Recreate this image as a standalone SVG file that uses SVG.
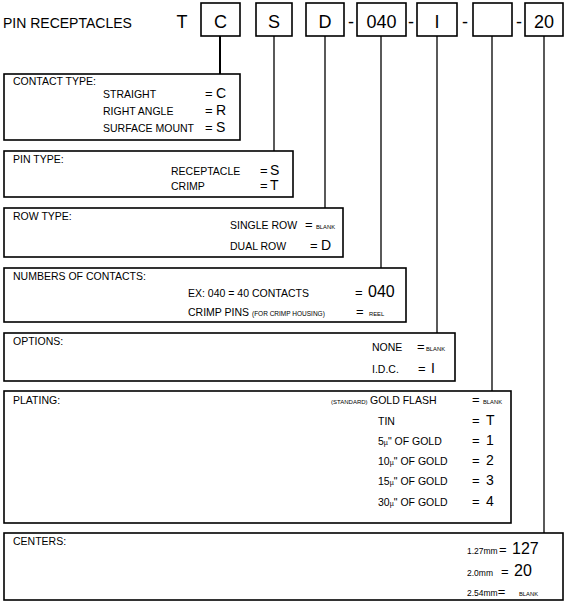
<svg xmlns="http://www.w3.org/2000/svg" width="569" height="607" viewBox="0 0 569 607">
<style>
text{font-family:"Liberation Sans",Arial,Helvetica,sans-serif;fill:#000}
.box{fill:none;stroke:#000;stroke-width:1.6}
.con{stroke:#000;stroke-width:1.3;fill:none}
.lbl{font-size:10.5px}
.it{font-size:10.5px}
.eq{font-size:13px}
.val{font-size:14px}
.big{font-size:16px}
.sm{font-size:5.8px}
.mm{font-size:8.5px}
.mu{font-size:7px}
.top{font-size:18px;text-anchor:middle}
</style>
<rect width="569" height="607" fill="#fff"/>
<g id="header">
<text x="3" y="28" style="font-size:14px">PIN RECEPTACLES</text>
<text x="182" y="28" class="top">T</text>
<rect class="box" x="201" y="3" width="39" height="33"/><text x="220.5" y="28" class="top">C</text>
<rect class="box" x="256" y="3" width="36" height="33"/><text x="274" y="28" class="top">S</text>
<rect class="box" x="306" y="3" width="38" height="33"/><text x="325" y="28" class="top">D</text>
<text x="351" y="28" class="top">-</text>
<rect class="box" x="357" y="3" width="49" height="33"/><text x="381.5" y="28" class="top">040</text>
<text x="411" y="28" class="top">-</text>
<rect class="box" x="417" y="3" width="40" height="33"/><text x="437" y="28" class="top">I</text>
<text x="465" y="28" class="top">-</text>
<rect class="box" x="473" y="3" width="39" height="33"/>
<text x="519" y="28" class="top">-</text>
<rect class="box" x="525" y="3" width="38" height="33"/><text x="544" y="28" class="top">20</text>
</g>
<g id="connectors">
<line class="con" x1="220" y1="36" x2="220" y2="74" style="stroke-width:2"/>
<line class="con" x1="274" y1="36" x2="274" y2="151"/>
<line class="con" x1="325" y1="36" x2="325" y2="208"/>
<line class="con" x1="381" y1="36" x2="381" y2="268"/>
<line class="con" x1="437" y1="36" x2="437" y2="333"/>
<line class="con" x1="492" y1="36" x2="492" y2="391"/>
<line class="con" x1="544" y1="36" x2="544" y2="533"/>
</g>
<g id="contact-type">
<rect class="box" x="4" y="74" width="236" height="66"/>
<text x="13" y="85" class="lbl">CONTACT TYPE:</text>
<text x="103" y="98" class="it">STRAIGHT</text><text x="205" y="98" class="eq">=</text><text x="216" y="98" class="val">C</text>
<text x="103" y="115" class="it">RIGHT ANGLE</text><text x="205" y="115" class="eq">=</text><text x="216" y="115" class="val">R</text>
<text x="103" y="132" class="it">SURFACE MOUNT</text><text x="205" y="132" class="eq">=</text><text x="216" y="132" class="val">S</text>
</g>
<g id="pin-type">
<rect class="box" x="4" y="151" width="289" height="46"/>
<text x="13" y="163" class="lbl">PIN TYPE:</text>
<text x="171" y="175" class="it">RECEPTACLE</text><text x="260" y="175" class="eq">=</text><text x="270" y="175" class="val">S</text>
<text x="171" y="190" class="it">CRIMP</text><text x="260" y="190" class="eq">=</text><text x="270" y="190" class="val">T</text>
</g>
<g id="row-type">
<rect class="box" x="4" y="208" width="339" height="49"/>
<text x="13" y="220" class="lbl">ROW TYPE:</text>
<text x="230" y="229" class="it">SINGLE ROW</text><text x="305" y="229" class="eq">=</text><text x="316" y="229" class="sm">BLANK</text>
<text x="230" y="250" class="it">DUAL ROW</text><text x="310" y="250" class="eq">=</text><text x="321" y="250" class="val">D</text>
</g>
<g id="numbers-of-contacts">
<rect class="box" x="4" y="268" width="402" height="54"/>
<text x="13" y="280" class="lbl">NUMBERS OF CONTACTS:</text>
<text x="188" y="297" class="it">EX: 040 = 40 CONTACTS</text><text x="355" y="297" class="eq">=</text><text x="368" y="297" class="big">040</text>
<text x="188" y="316" class="it">CRIMP PINS <tspan style="font-size:6.5px">(FOR CRIMP HOUSING)</tspan></text><text x="356" y="316" class="eq">=</text><text x="369" y="316" class="sm">REEL</text>
</g>
<g id="options">
<rect class="box" x="4" y="333" width="451" height="48"/>
<text x="13" y="345" class="lbl">OPTIONS:</text>
<text x="372" y="351" class="it">NONE</text><text x="417" y="351" class="eq">=</text><text x="426" y="351" class="sm">BLANK</text>
<text x="372" y="373" class="it">I.D.C.</text><text x="418" y="373" class="eq">=</text><text x="431" y="373" class="val">I</text>
</g>
<g id="plating">
<rect class="box" x="4" y="391" width="507" height="132"/>
<text x="13" y="404" class="lbl">PLATING:</text>
<text x="331" y="404" style="font-size:6px">(STANDARD)</text><text x="370" y="404" class="it">GOLD FLASH</text><text x="472" y="404" class="eq">=</text><text x="483" y="404" class="sm">BLANK</text>
<text x="378" y="425" class="it">TIN</text><text x="472" y="425" class="eq">=</text><text x="486" y="425" class="val">T</text>
<text x="378" y="445" class="it">5<tspan class="mu">µ</tspan>" OF GOLD</text><text x="472" y="445" class="eq">=</text><text x="486" y="445" class="val">1</text>
<text x="378" y="465" class="it">10<tspan class="mu">µ</tspan>" OF GOLD</text><text x="472" y="465" class="eq">=</text><text x="486" y="465" class="val">2</text>
<text x="378" y="485" class="it">15<tspan class="mu">µ</tspan>" OF GOLD</text><text x="472" y="485" class="eq">=</text><text x="486" y="485" class="val">3</text>
<text x="378" y="506" class="it">30<tspan class="mu">µ</tspan>" OF GOLD</text><text x="472" y="506" class="eq">=</text><text x="486" y="506" class="val">4</text>
</g>
<g id="centers">
<rect class="box" x="4" y="533" width="559" height="67"/>
<text x="13" y="545" class="lbl">CENTERS:</text>
<text x="467" y="554" class="mm">1.27mm</text><text x="499" y="554" class="eq">=</text><text x="512" y="554" class="big">127</text>
<text x="467" y="576" class="mm">2.0mm</text><text x="501" y="576" class="eq">=</text><text x="514" y="576" class="big">20</text>
<text x="467" y="596" class="mm">2.54mm<tspan class="eq">=</tspan></text><text x="519" y="596" class="sm">BLANK</text>
</g>
</svg>
